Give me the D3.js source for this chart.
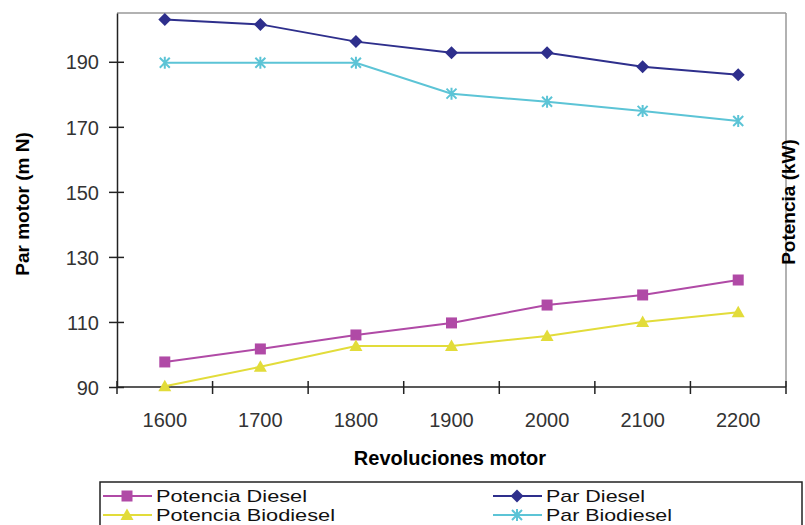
<!DOCTYPE html>
<html><head><meta charset="utf-8">
<script src="https://cdn.jsdelivr.net/npm/d3@7/dist/d3.min.js"></script>
<style>body{margin:0;background:#fff}svg{display:block}text{font-family:"Liberation Sans",Arial,sans-serif}</style>
</head><body><svg id="c" width="805" height="525"></svg>
<script>
const categories = [1600, 1700, 1800, 1900, 2000, 2100, 2200];
const parDiesel = [203, 201.5, 196.2, 192.8, 192.8, 188.5, 186];
const parBiodiesel = [189.7, 189.7, 189.7, 180.2, 177.7, 174.9, 171.8];
const potenciaDiesel = [97.7, 101.7, 106, 109.7, 115.2, 118.3, 122.9];
const potenciaBiodiesel = [90.2, 96.2, 102.6, 102.6, 105.7, 110, 113];
const yTicks = [90, 110, 130, 150, 170, 190];

const series = [
  {name:"Potencia Diesel", values:potenciaDiesel, color:"#b04aa6", marker:"square"},
  {name:"Potencia Biodiesel", values:potenciaBiodiesel, color:"#e2dc3a", marker:"triangle"},
  {name:"Par Diesel", values:parDiesel, color:"#2e2f8c", marker:"diamond"},
  {name:"Par Biodiesel", values:parBiodiesel, color:"#5cc4d6", marker:"star"}
];

const svg = d3.select("#c");
const L=117, R=786, T=13, B=387;
const x = d3.scaleBand().domain(categories).range([L,R]);
const y = d3.scaleLinear().domain([90,205]).range([B,T]);

// frame
svg.append("line").attr("x1",L).attr("x2",R).attr("y1",T).attr("y2",T).attr("stroke","#999").attr("stroke-width",1.5);
svg.append("line").attr("x1",R).attr("x2",R).attr("y1",T).attr("y2",B).attr("stroke","#999").attr("stroke-width",1.5);

// axes
const yAxis = svg.append("g").attr("transform",`translate(${L},0)`)
  .call(d3.axisLeft(y).tickValues(yTicks).tickSizeInner(8).tickSizeOuter(0).tickPadding(10));
yAxis.selectAll(".tick line").attr("x2",-8).attr("x1",7);
const xAxis = svg.append("g").attr("transform",`translate(0,${B})`)
  .call(d3.axisBottom(x).tickSize(0).tickPadding(0));
const bounds = categories.map(c=>x(c)).concat([R]);
xAxis.selectAll(".bt").data(bounds).enter().append("line")
  .attr("x1",d=>d).attr("x2",d=>d).attr("y1",-6).attr("y2",7).attr("stroke","#222").attr("stroke-width",1.5);
[yAxis,xAxis].forEach(g=>{
  g.select(".domain").attr("stroke","#222").attr("stroke-width",1.5);
  g.selectAll(".tick line").attr("stroke","#222").attr("stroke-width",1.5);
  g.selectAll("text").attr("font-size",20).attr("fill","#333").style("font-family","Liberation Sans, Arial, sans-serif");
});
xAxis.selectAll(".tick text").attr("dy",null).attr("y",40);
yAxis.selectAll(".tick text").attr("dy","0.36em");
xAxis.select(".domain").attr("d",`M${L},0H${R}`);

// titles
svg.append("text").attr("x",450).attr("y",465).attr("text-anchor","middle")
  .attr("font-size",20).attr("font-weight","bold").text("Revoluciones motor");
svg.append("text").attr("transform","translate(29,204) rotate(-90)").attr("text-anchor","middle")
  .attr("font-size",19).attr("font-weight","bold").text("Par motor (m N)");
svg.append("text").attr("transform","translate(795,202) rotate(-90)").attr("text-anchor","middle")
  .attr("font-size",19).attr("font-weight","bold").text("Potencia (kW)");

function drawMarker(g, type, color, cx, cy){
  if(type==="square") g.append("rect").attr("x",cx-5.5).attr("y",cy-5.5).attr("width",11).attr("height",11).attr("fill",color);
  else if(type==="diamond") g.append("path").attr("d",`M${cx},${cy-6.5}L${cx+6.5},${cy}L${cx},${cy+6.5}L${cx-6.5},${cy}Z`).attr("fill",color);
  else if(type==="triangle") g.append("path").attr("d",`M${cx},${cy-6.5}L${cx+6.5},${cy+5}L${cx-6.5},${cy+5}Z`).attr("fill",color);
  else if(type==="star") g.append("path").attr("d",`M${cx-5},${cy-5}L${cx+5},${cy+5}M${cx+5},${cy-5}L${cx-5},${cy+5}M${cx},${cy-6}L${cx},${cy+6}`).attr("stroke",color).attr("stroke-width",2).attr("fill","none");
}

const line = d3.line().x((d,i)=>x(categories[i])+x.bandwidth()/2).y(d=>y(d));
series.forEach(s=>{
  svg.append("path").datum(s.values).attr("d",line).attr("fill","none").attr("stroke",s.color).attr("stroke-width",2);
  const g = svg.append("g");
  s.values.forEach((v,i)=>drawMarker(g,s.marker,s.color,x(categories[i])+x.bandwidth()/2,y(v)));
});

// legend
svg.append("rect").attr("x",100).attr("y",482).attr("width",702).attr("height",60).attr("fill","none").attr("stroke","#222").attr("stroke-width",1.5);
const legPos = [[103,496],[103,515],[493,496],[493,515]];
const legWidths = [151, 179, 99, 126];
series.forEach((s,i)=>{
  const [lx,ly]=legPos[i];
  const g = svg.append("g");
  g.append("line").attr("x1",lx).attr("x2",lx+49).attr("y1",ly).attr("y2",ly).attr("stroke",s.color).attr("stroke-width",2);
  drawMarker(g,s.marker,s.color,lx+24,ly);
  g.append("text").attr("x",lx+53).attr("y",ly+6).attr("font-size",17).attr("fill","#111")
    .attr("textLength",legWidths[i]).attr("lengthAdjust","spacingAndGlyphs").text(s.name);
});
</script></body></html>
